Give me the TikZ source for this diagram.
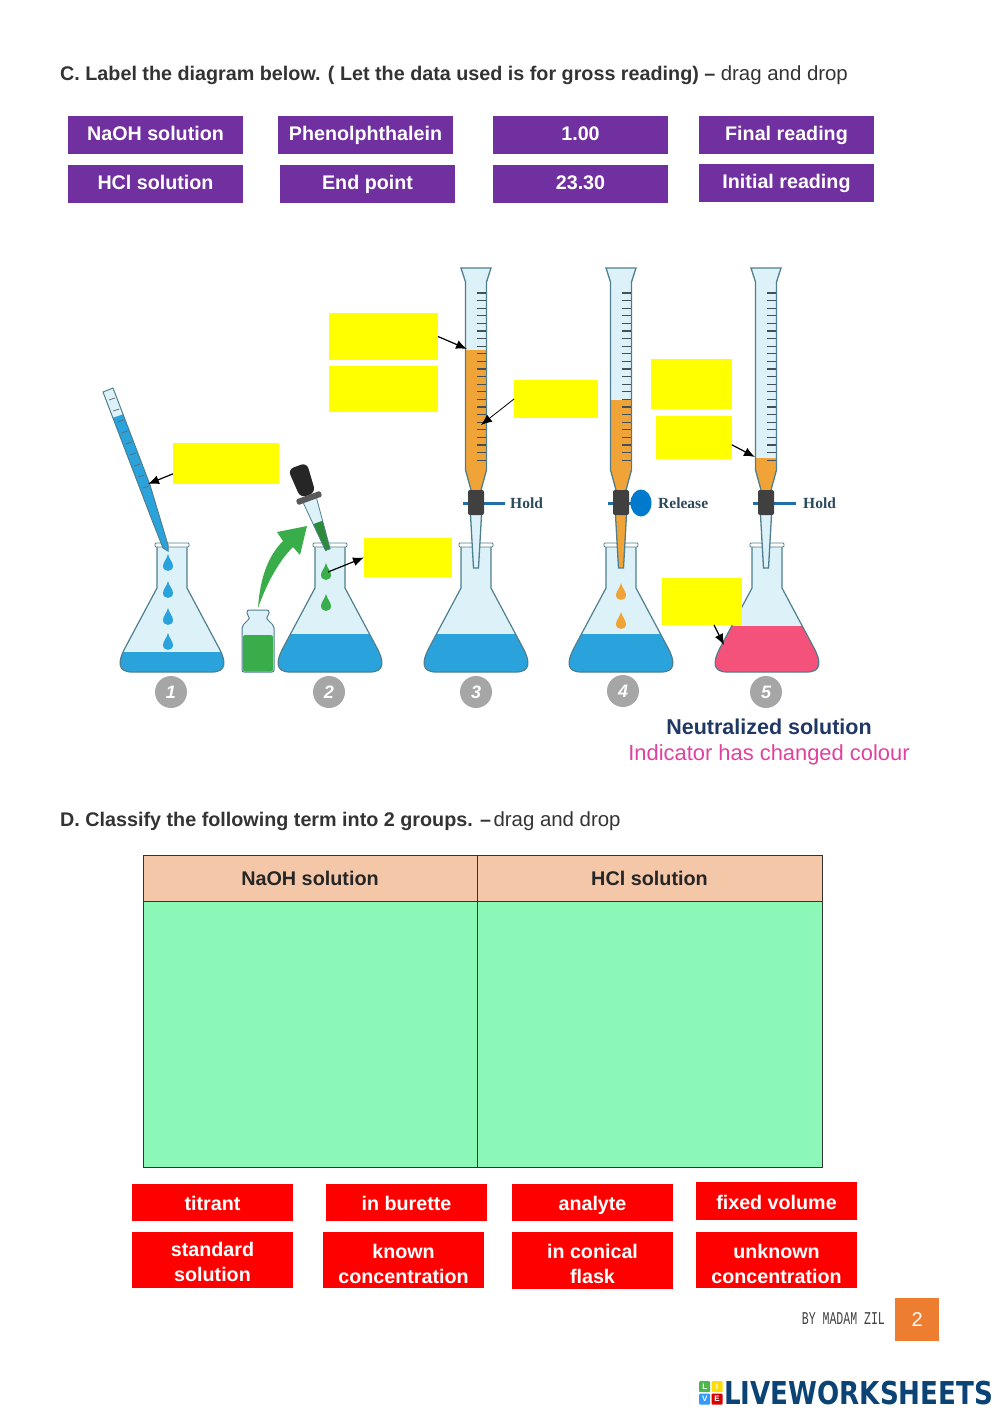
\documentclass[tikz,border=0pt]{standalone}
\usepackage{fontspec}
\setmainfont{Liberation Sans}
\newfontfamily\holdfont{Liberation Serif}
\newfontfamily\madamfont{Liberation Mono}
\newfontfamily\logofont{DejaVu Sans}
\usetikzlibrary{positioning,shapes.geometric,arrows.meta}
\definecolor{tilepurple}{HTML}{7030A0}
\definecolor{glassline}{HTML}{4F7F8E}
\definecolor{glassfill}{HTML}{DDF1F9}
\definecolor{waterblue}{HTML}{2AA3DC}
\definecolor{acidorange}{HTML}{F0A437}
\definecolor{dropgreen}{HTML}{39AD4A}
\definecolor{pinkliquid}{HTML}{F4527A}
\definecolor{blankyellow}{RGB}{255,255,0}
\definecolor{headpeach}{HTML}{F4C7A8}
\definecolor{bodygreen}{HTML}{8CF8B8}
\definecolor{handleblue}{HTML}{1F70A8}
\definecolor{holdgrey}{HTML}{2C4A5C}
\definecolor{navytext}{HTML}{1F3864}
\definecolor{pinktext}{HTML}{E0409F}
\definecolor{logonavy}{HTML}{0B4374}
\definecolor{pageorange}{HTML}{ED7D31}
\tikzset{
  tile/.style={fill=tilepurple,text=white,font=\fontsize{19.7}{24}\selectfont\bfseries,minimum width=175pt,minimum height=38pt,inner sep=0pt,outer sep=0pt,text height=15pt,text depth=4pt},
  basered/.style={fill=red,text=white,font=\fontsize{19.7}{25}\selectfont\bfseries,minimum width=161pt,minimum height=37pt,inner sep=0pt,outer sep=0pt,align=center},
  redtile/.style={basered,text height=18pt,text depth=2pt},
  tallred/.style={basered,anchor=north west,minimum height=56pt},
  blank/.style={fill=blankyellow,inner sep=0pt,outer sep=0pt,anchor=north west},
  headcell/.style={draw=black!80,fill=headpeach,font=\fontsize{19.8}{24}\selectfont\bfseries,text=black!85,minimum height=46pt,inner sep=0pt,outer sep=0pt},
  bodycell/.style={draw=black!80,fill=bodygreen,minimum height=266pt,inner sep=0pt,outer sep=0pt},
  num node/.style={circle,fill=black!35,text=white,minimum size=32pt,inner sep=0pt,font=\fontsize{18}{20}\selectfont\bfseries\itshape},
  pointer/.style={-{Latex[length=11pt,width=9pt]},line width=1.2pt,black},
  heading/.style={anchor=west,inner sep=0pt,text=black!80,font=\fontsize{19.75}{24}\selectfont},
  holdtext/.style={anchor=west,inner sep=0pt,text=holdgrey,font=\fontsize{15.5}{18}\selectfont\holdfont\bfseries},
  logotile/.style={text=white,rounded corners=1pt,minimum size=11pt,inner sep=0pt,font=\fontsize{8}{8}\selectfont\bfseries}
}
\newcommand{\dragtext}{{\fontsize{20.4}{24}\selectfont drag and drop}}
% flask: centre x, liquid level, liquid colour
\newcommand{\flask}[3]{
  \begin{scope}[shift={(#1,0)}]
    \def\flaskbody{(-15,546) -- (-15,588) -- (-47,648) .. controls (-54,661) and (-55,672) .. (-40,672) -- (40,672) .. controls (55,672) and (54,661) .. (47,648) -- (15,588) -- (15,546) -- cycle}
    \fill[glassfill] \flaskbody;
    \begin{scope}
      \clip \flaskbody;
      \fill[#3] (-60,#2) rectangle (60,675);
    \end{scope}
    \draw[glassline,line width=1.2pt] \flaskbody;
    \draw[glassline,fill=white,line width=.8pt,rounded corners=1pt] (-17,543) rectangle (17,547);
  \end{scope}
}
% burette: centre x, liquid level, end of liquid
\newcommand{\burette}[3]{
  \begin{scope}[shift={(#1,0)}]
    \def\burettebody{(-15,268) -- (15,268) -- (10.5,282) -- (10.5,470) -- (5,490) -- (5.5,515) -- (2.5,568) -- (-2.5,568) -- (-5.5,515) -- (-5,490) -- (-10.5,470) -- (-10.5,282) -- cycle}
    \fill[glassfill] \burettebody;
    \begin{scope}
      \clip \burettebody;
      \fill[acidorange] (-16,#2) rectangle (16,#3);
    \end{scope}
    \draw[glassline,line width=1.3pt] \burettebody;
    \foreach \y in {293,300.6,...,462}
      \draw[black!75!cyan,line width=1.1pt] (1,\y) -- (10,\y);
    \fill[black!75,rounded corners=2pt] (-8,490) rectangle (8,515);
  \end{scope}
}
\newcommand{\waterdrop}[3]{
  \begin{scope}[shift={(#1,#2)}]
    \fill[#3] (0,-9) .. controls (1,-4) and (5,-1) .. (5,3) .. controls (5,9.5) and (-5,9.5) .. (-5,3) .. controls (-5,-1) and (-1,-4) .. (0,-9) -- cycle;
  \end{scope}
}
\begin{document}
\begin{tikzpicture}[x=1pt,y=-1pt]
    \useasboundingbox (0,0) rectangle (1000,1413);

    \node[heading] (titleC) at (60,75) {\textbf{C. Label the diagram below. ( Let the data used is for gross reading) –} \dragtext};

    % purple tiles
    \node[tile,anchor=north west] (naoh) at (68,116) {NaOH solution};
    \node[tile] (phen) [right=35pt of naoh] {Phenolphthalein};
    \node[tile] (one) [right=40pt of phen] {1.00};
    \node[tile] (final) [right=31pt of one] {Final reading};
    \node[tile] (hcl) [below=11pt of naoh] {HCl solution};
    \node[tile] (endp) [right=37pt of hcl] {End point};
    \node[tile] (twenty) [right=38pt of endp] {23.30};
    \node[tile] (initial) [below=10pt of final] {Initial reading};

    % pipette and flask 1
    \flask{172}{652}{waterblue}
    \fill[glassfill] (103,392) -- (113,388) -- (150,485) -- (168,545) -- (168,551) -- (163,548) -- (152,520) -- cycle;
    \begin{scope}
      \clip (103,392) -- (113,388) -- (150,485) -- (168,545) -- (168,551) -- (163,548) -- (152,520) -- cycle;
      \fill[waterblue] (100,422) -- (130,412) -- (175,540) -- (175,555) -- (150,555) -- cycle;
    \end{scope}
    \draw[glassline,line width=1pt] (103,392) -- (113,388) -- (150,485) -- (168,545) -- (168,551) -- (163,548) -- (152,520) -- cycle;
    \foreach \t in {0,1,...,8}
      \draw[black!60,line width=.7pt] (115+\t*4.2,398+\t*11) -- +(-6,2);
    \waterdrop{168}{563}{waterblue}
    \waterdrop{168}{590}{waterblue}
    \waterdrop{168}{617}{waterblue}
    \waterdrop{168}{642}{waterblue}

    % bottle, green arrow, dropper and flask 2
    \flask{330}{634}{waterblue}
    \draw[glassline,fill=glassfill,line width=1pt,rounded corners=2pt] (247,610) -- (269,610) -- (269,615) -- (266,618) -- (274,626) -- (274,672) -- (242,672) -- (242,626) -- (250,618) -- (247,615) -- cycle;
    \fill[dropgreen,rounded corners=2pt] (243,635) rectangle (273,671.5);
    \fill[dropgreen] (258,608) .. controls (260,578) and (268,556) .. (283,541) -- (277,532) -- (307,526) -- (300,555) -- (293,547) .. controls (280,560) and (268,580) .. (258,608) -- cycle;
    \begin{scope}[shift={(309,498)},rotate=20]
      \fill[glassfill] (-7,3) -- (7,3) -- (2.5,55) -- (-2.5,55) -- cycle;
      \fill[dropgreen!80!black] (-5,26) -- (5,26) -- (2.5,55) -- (-2.5,55) -- cycle;
      \draw[glassline,line width=.8pt] (-7,3) -- (-2.5,55) -- (2.5,55) -- (7,3);
      \fill[black!65,rounded corners=1.5pt] (-13,-3) rectangle (13,3);
      \fill[black!85,rounded corners=6pt] (-8,-3) -- (8,-3) -- (10,-34) -- (-10,-34) -- cycle;
    \end{scope}
    \waterdrop{326}{572}{dropgreen}
    \waterdrop{326}{603}{dropgreen}
    \coordinate (gdrop) at (328,572);

    % burettes and flasks 3 to 5
    \flask{476}{634}{waterblue}
    \draw[handleblue,line width=3pt] (463,503) -- (505,503);
    \burette{476}{350}{490}
    \node[holdtext] (hold1) at (510,503) {Hold};

    \flask{621}{634}{waterblue}
    \draw[handleblue,line width=3pt] (608,503) -- (640,503);
    \burette{621}{400}{568}
    \node[ellipse,fill=blue!40!cyan!80!black,minimum width=21pt,minimum height=27pt,inner sep=0pt] (knob) at (641,503) {};
    \node[holdtext] (release) at (658,503) {Release};
    \waterdrop{621}{592}{acidorange}
    \waterdrop{621}{621}{acidorange}

    \flask{767}{626}{pinkliquid}
    \draw[handleblue,line width=3pt] (753,503) -- (796,503);
    \burette{766}{458}{490}
    \node[holdtext] (hold2) at (803,503) {Hold};

    % numbers
    \node[num node] (n1) at (171,692) {1};
    \node[num node] (n2) at (329,692) {2};
    \node[num node] (n3) at (476,692) {3};
    \node[num node] (n4) at (623,691) {4};
    \node[num node] (n5) at (766,692) {5};

    % yellow blanks
    \node[blank,minimum width=109pt,minimum height=47pt] (y1) at (329,313) {};
    \node[blank,minimum width=109pt,minimum height=46pt] (y2) at (329,366) {};
    \node[blank,minimum width=84pt,minimum height=38pt] (y3) at (514,380) {};
    \node[blank,minimum width=106pt,minimum height=41pt] (y4) at (173,443) {};
    \node[blank,minimum width=88pt,minimum height=39pt] (y5) at (364,538) {};
    \node[blank,minimum width=81pt,minimum height=50pt] (y6) at (651,359) {};
    \node[blank,minimum width=76pt,minimum height=43pt] (y7) at (656,416) {};
    \node[blank,minimum width=80pt,minimum height=47pt] (y8) at (662,578) {};

    \coordinate (a1) at (467,349);
    \coordinate (a3) at (481,425);
    \coordinate (a4) at (148,484);
    \coordinate (a7) at (755,457);
    \coordinate (a8) at (724,645);
    \draw[pointer] (y1.east) -- (a1);
    \draw[pointer,line width=.8pt] (y3.west) -- (a3);
    \draw[pointer] (y4.191) -- (a4);
    \draw[pointer] (gdrop) -- (y5.west);
    \draw[pointer] (y7.-11) -- (a7);
    \draw[pointer] (y8.-63) -- (a8);

    \node[inner sep=0pt,text=navytext,font=\fontsize{21.5}{25}\selectfont\bfseries] (neutral) at (769,727) {Neutralized solution};
    \node[inner sep=0pt,text=pinktext,font=\fontsize{21.9}{25}\selectfont] (indicator) at (769,755) {Indicator has changed colour};

    \node[heading] (titleD) at (60,821) {\textbf{D. Classify the following term into 2 groups. –}\hspace{-3pt} \dragtext};

    % table
    \node[headcell,minimum width=334pt,anchor=north west] (h1) at (143,855) {NaOH solution};
    \node[headcell,minimum width=345pt] (h2) [right=0pt of h1] {HCl solution};
    \node[bodycell,minimum width=334pt] (b1) [below=0pt of h1] {};
    \node[bodycell,minimum width=345pt] (b2) [below=0pt of h2] {};

    % red tiles
    \node[redtile,anchor=north west] (titrant) at (132,1184) {titrant};
    \node[redtile] (inburette) [right=33pt of titrant] {in burette};
    \node[redtile] (analyte) [right=25pt of inburette] {analyte};
    \node[redtile,anchor=north west,minimum height=38pt] (fixed) at (696,1182) {fixed volume};
    \node[tallred] (standard) at (132,1232) {\rule{0pt}{18.4pt}standard\\solution};
    \node[tallred] (known) at (323,1232) {\rule{0pt}{22.4pt}known\\concentration};
    \node[tallred,minimum height=57pt] (conical) at (512,1232) {\rule{0pt}{20.4pt}in conical\\flask};
    \node[tallred] (unknown) at (696,1232) {\rule{0pt}{22.4pt}unknown\\concentration};

    % footer
    \node[anchor=north west,fill=pageorange,text=white,minimum width=44pt,minimum height=43pt,inner sep=0pt,font=\fontsize{20}{24}\selectfont] (page) at (895,1298) {2};
    \node[anchor=east,inner sep=0pt,text=black!75,xscale=.64,transform shape,font=\fontsize{18}{20}\selectfont\madamfont] (madam) at (885,1319) {BY MADAM ZIL};

    \node[anchor=west,inner sep=0pt,text=logonavy,xscale=.83,transform shape,font=\fontsize{31.5}{36}\selectfont\logofont\bfseries] (logo) at (724,1393) {LIVEWORKSHEETS};
    \node[logotile,anchor=north west,fill=green!60!black!70] (tl) at (699,1381) {L};
    \node[logotile,fill=yellow!80!orange] (ti) [right=1pt of tl] {I};
    \node[logotile,fill=blue!50!cyan!80] (tv) [below=1pt of tl] {V};
    \node[logotile,fill=red!85!black] (te) [below=1pt of ti] {E};

\end{tikzpicture}
\end{document}
